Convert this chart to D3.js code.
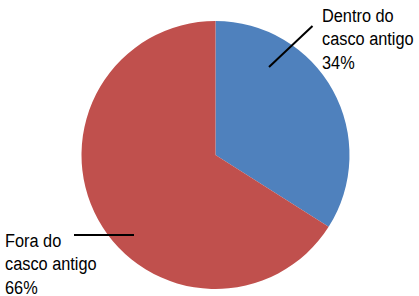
<!DOCTYPE html>
<html>
<head>
<meta charset="utf-8">
<script src="https://cdn.jsdelivr.net/npm/d3@7"></script>
<style>
  body { margin: 0; background: #fff; }
  text { font-family: "Liberation Sans", Arial, sans-serif; font-size: 19px; fill: #000; }
</style>
</head>
<body>
<script>
// pie data
const categories = ["Dentro do casco antigo", "Fora do casco antigo"];
const values = [34, 66];
const colors = ["#4F81BD", "#C0504D"];
// label lines, split as in the picture
const labelLines = [["Dentro do", "casco antigo", "34%"], ["Fora do", "casco antigo", "66%"]];

const width = 419, height = 296;
const cx = 215.5, cy = 155, radius = 134;
const narrow = 0.86; // squeeze text like a narrow face

let svg = d3.select("body")
  .append("svg")
  .attr("width", width)
  .attr("height", height);

let pie = d3.pie().sort(null).value((d) => d);
let arc = d3.arc().innerRadius(0).outerRadius(radius);

let g = svg.append("g").attr("transform", `translate(${cx},${cy})`);

g.selectAll("path")
  .data(pie(values))
  .enter()
  .append("path")
    .attr("d", arc)
    .attr("fill", (d, i) => colors[i]);

// leader lines (relative to center)
const leaders = [
  [[53.5, -88], [97, -129]],
  [[-141.5, 80], [-81.5, 80]]
];
g.selectAll("line.leader")
  .data(leaders)
  .enter()
  .append("line")
    .attr("class", "leader")
    .attr("x1", (d) => d[0][0]).attr("y1", (d) => d[0][1])
    .attr("x2", (d) => d[1][0]).attr("y2", (d) => d[1][1])
    .attr("stroke", "#000")
    .attr("stroke-width", 2);

// labels
const labelPos = [[322, 22], [5, 247]];
labelLines.forEach((lines, i) => {
  let t = svg.append("text")
    .attr("transform", `translate(${labelPos[i][0]},${labelPos[i][1]}) scale(${narrow},1)`);
  lines.forEach((s, j) => {
    t.append("tspan")
      .attr("x", 0)
      .attr("dy", j === 0 ? 0 : 23.5)
      .text(s);
  });
});
</script>
</body>
</html>
